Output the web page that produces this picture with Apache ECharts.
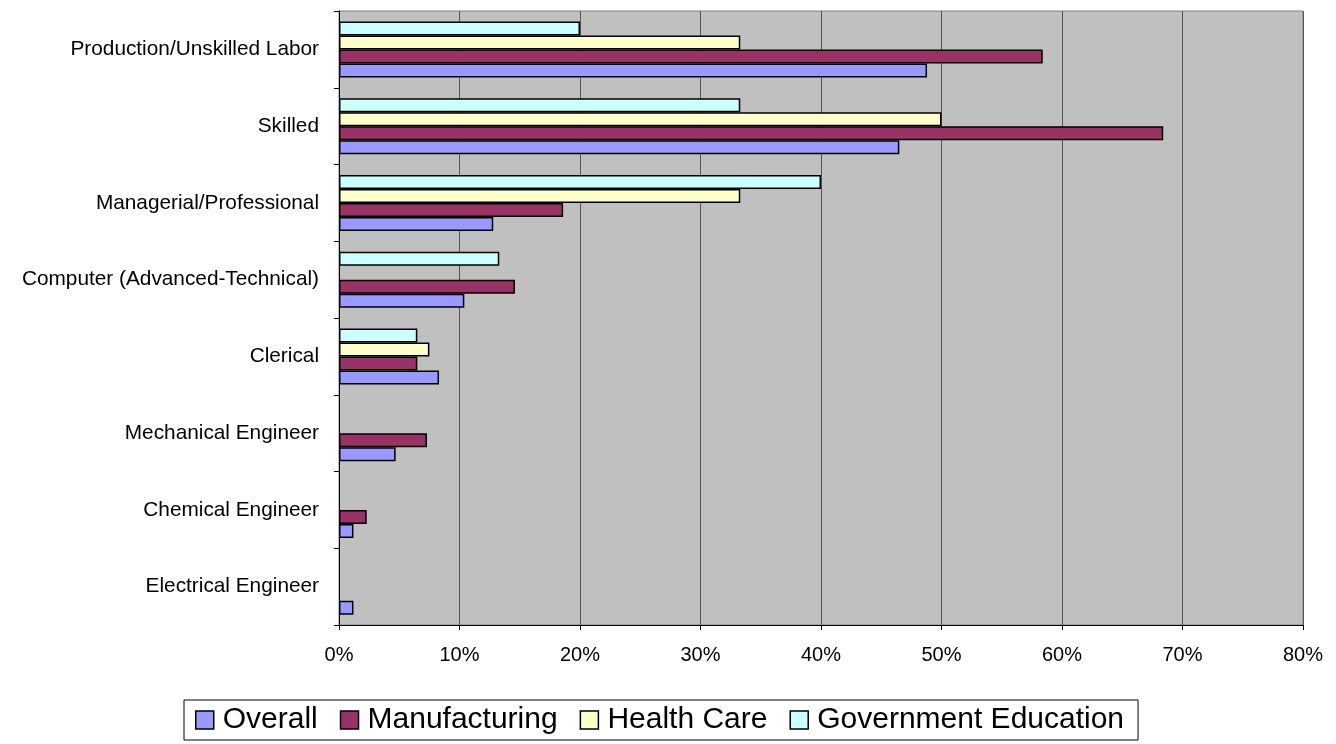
<!DOCTYPE html>
<html>
<head>
<meta charset="utf-8">
<title>Job categories by sector</title>
<script src="https://cdn.jsdelivr.net/npm/echarts@6/dist/echarts.min.js"></script>
<style>
  html, body { margin: 0; padding: 0; background: #ffffff; }
  #chart { width: 1336px; height: 744px; }
</style>
</head>
<body>
<div id="chart"></div>
<script>
// Job categories (top to bottom)
const categories = [
  'Production/Unskilled Labor',
  'Skilled',
  'Managerial/Professional',
  'Computer (Advanced-Technical)',
  'Clerical',
  'Mechanical Engineer',
  'Chemical Engineer',
  'Electrical Engineer'
];

// Share of respondents per sector, in percent (null = no bar)
const overall       = [48.8, 46.5, 12.8, 10.4, 8.3, 4.7, 1.2, 1.2];
const manufacturing = [58.4, 68.4, 18.6, 14.6, 6.5, 7.3, 2.3, null];
const healthCare    = [33.3, 50.0, 33.3, null, 7.5, null, null, null];
const govEducation  = [20.0, 33.3, 40.0, 13.3, 6.5, null, null, null];

const seriesNames = ['Overall', 'Manufacturing', 'Health Care', 'Government Education'];
const seriesColors = ['#9999FF', '#993366', '#FFFFCC', '#CCFFFF'];
const seriesValues = [overall, manufacturing, healthCare, govEducation];

// X axis ticks: 0% .. 80% every 10%
const xMin = 0, xMax = 80, xStep = 10;

const FONT = '"Liberation Sans", Arial, sans-serif';

const chart = echarts.init(document.getElementById('chart'), null, { renderer: 'canvas' });

// Bars inside a band are laid out top-down in series order, so the series
// are added last-to-first to put "Overall" at the bottom of each group.
const series = seriesNames.map((name, i) => ({
  name,
  type: 'bar',
  data: seriesValues[i],
  barWidth: 14,
  barGap: '0%',
  itemStyle: { color: seriesColors[i], borderColor: '#000000', borderWidth: 1.5 },
  emphasis: { disabled: true },
  animation: false
})).reverse();

chart.setOption({
  animation: false,
  textStyle: { fontFamily: FONT },
  grid: {
    left: 339, top: 11, right: 33, bottom: 119,
    show: true,
    backgroundColor: '#C0C0C0',
    borderColor: '#808080',
    borderWidth: 1
  },
  legend: {
    data: seriesNames,
    left: 184,
    top: 700,
    orient: 'horizontal',
    itemWidth: 18,
    itemHeight: 18,
    itemGap: 22,
    padding: [5, 14, 5, 11],
    borderColor: '#000000',
    borderWidth: 1,
    backgroundColor: '#ffffff',
    icon: 'rect',
    selectedMode: false,
    itemStyle: { borderColor: '#000000', borderWidth: 1.5 },
    textStyle: { fontFamily: FONT, fontSize: 30, color: '#000000', padding: [0, 0, 0, 4] }
  },
  xAxis: {
    type: 'value',
    min: xMin,
    max: xMax,
    interval: xStep,
    axisLine: { show: true, lineStyle: { color: '#000000', width: 1 } },
    axisTick: { show: true, length: 5, lineStyle: { color: '#000000' } },
    axisLabel: {
      formatter: '{value}%',
      fontFamily: FONT,
      fontSize: 20,
      color: '#000000',
      margin: 20
    },
    splitLine: { show: true, lineStyle: { color: '#555555', width: 1 } }
  },
  yAxis: {
    type: 'category',
    data: categories,
    inverse: true,
    axisLine: { show: true, lineStyle: { color: '#000000', width: 1 } },
    axisTick: { show: true, length: 5, lineStyle: { color: '#000000' } },
    axisLabel: {
      fontFamily: FONT,
      fontSize: 20.8,
      color: '#000000',
      margin: 20
    },
    splitLine: { show: false }
  },
  series
});
</script>
</body>
</html>
